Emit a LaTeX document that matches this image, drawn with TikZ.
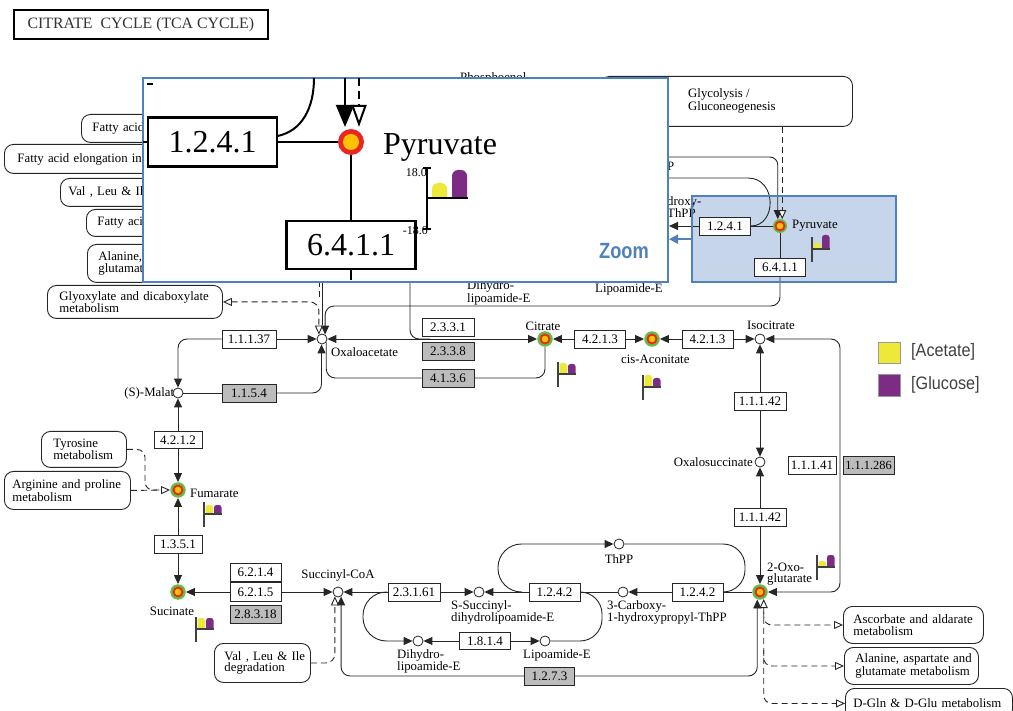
\documentclass[tikz,border=0pt]{standalone}
\usepackage{fontspec}
\setmainfont{Liberation Serif}
\newfontfamily\legfont{Liberation Sans}[FakeStretch=0.9]
\newfontfamily\zoomfont{Liberation Sans}[FakeStretch=0.83]
\usetikzlibrary{arrows.meta}
\definecolor{kblue}{RGB}{79,129,189}
\definecolor{hlfill}{RGB}{199,213,235}
\definecolor{hgreen}{RGB}{102,187,68}
\definecolor{hred}{RGB}{232,40,32}
\definecolor{horange}{RGB}{255,194,0}
\definecolor{byellow}{RGB}{238,232,56}
\definecolor{bpurple}{RGB}{124,44,132}
\definecolor{egray}{RGB}{188,188,188}
\newcommand\kflag[4]{%
  \begin{scope}
    \clip (#1,#2-20) rectangle (#1+19,#2);
    \fill[byellow, rounded corners=2.5pt] (#1+1.5,#3) rectangle (#1+9,#2+6);
    \fill[bpurple, rounded corners=2.5pt] (#1+10,#4) rectangle (#1+17.5,#2+6);
  \end{scope}
  \draw[line width=1.3pt, black!75] (#1,#2-12) -- (#1,#2+13);
  \draw[line width=1.1pt, black!75] (#1,#2) -- (#1+18,#2);
}
\begin{document}
\begin{tikzpicture}[x=1pt, y=-1pt,
  tri/.tip={Triangle[length=9pt,width=8pt]},
  otri/.tip={Triangle[open,length=9pt,width=8pt,fill=white]},
  ln/.style={line width=0.9pt, draw=black!85},
  arr/.style={ln, -tri},
  arrb/.style={ln, tri-tri},
  dsh/.style={line width=0.9pt, draw=black!85, dash pattern=on 6pt off 4pt},
  enz/.style={draw=black!85, line width=0.9pt, fill=white, minimum width=51pt, minimum height=18pt, inner sep=0pt, font=\fontsize{13}{13}\selectfont},
  enzg/.style={enz, fill=egray},
  cpd/.style={circle, draw=black!85, line width=0.8pt, fill=white, minimum size=10pt, inner sep=0pt},
  hit/.style={circle, fill=hgreen, minimum size=15.5pt, inner sep=0pt,
    path picture={\fill[hred] (path picture bounding box.center) circle (5.4pt);
                  \fill[horange] (path picture bounding box.center) circle (3.3pt);}},
  lbl/.style={font=\fontsize{12.8}{11.5}\selectfont, inner sep=0pt, align=left},
  pbox/.style={draw=black!85, line width=0.9pt, rounded corners=9pt, fill=white, align=left,
    font=\fontsize{12.8}{11.5}\selectfont, anchor=north west, inner ysep=0pt},
  zln/.style={line width=2pt, draw=black},
  zbig/.style={draw=black, line width=2.6pt, fill=white, minimum width=129pt, minimum height=49pt, inner sep=0pt, font=\fontsize{32}{32}\selectfont}
]
\useasboundingbox (0,0) rectangle (1013,711);
\fill[white] (0,0) rectangle (1013,711);

% highlight fill
\node[fill=hlfill, minimum width=204pt, minimum height=86pt, inner sep=0pt, anchor=north west] (hbox) at (692,196) {};

% title
\node[draw, line width=1.8pt, minimum width=254pt, minimum height=29pt, inner sep=0pt, anchor=north west,
  font=\fontsize{15.8}{16}\selectfont, text=black!80] (title) at (13,9) {CITRATE\ \ CYCLE (TCA CYCLE)};

% pathway boxes
\node[pbox, text width=150pt, inner xsep=11pt, minimum height=28pt] (fa1) at (81,114) {Fatty acid};
\node[pbox, text width=160pt, inner xsep=13pt, minimum height=29pt] (fa2) at (4,144) {\mbox{Fatty acid elongation in}};
\node[pbox, text width=150pt, inner xsep=8pt, minimum height=28pt] (vli) at (60,178) {Val , Leu \& Il};
\node[pbox, text width=150pt, inner xsep=11pt, minimum height=27pt] (fa3) at (86,209) {Fatty aci};
\node[pbox, text width=150pt, inner xsep=11pt, minimum height=38pt] (ala) at (87,244) {Alanine,\\glutamat};
\node[pbox, text width=151pt, inner xsep=12pt, minimum height=33pt] (glx) at (47,285) {\mbox{Glyoxylate and dicaboxylate}\\metabolism};
\node[pbox, text width=61pt, inner xsep=12pt, minimum height=36pt] (tyr) at (41,431) {Tyrosine\\\mbox{metabolism}};
\node[pbox, text width=110pt, inner xsep=8pt, minimum height=38pt] (arg) at (4,471) {\mbox{Arginine and proline}\\metabolism};
\node[pbox, text width=76pt, inner xsep=10pt, minimum height=39pt] (vli2) at (214,643) {\mbox{Val , Leu \& Ile}\\degradation};
\node[pbox, text width=120pt, inner xsep=10pt, minimum height=37pt] (asc) at (843,606) {\mbox{Ascorbate and aldarate}\\metabolism};
\node[pbox, text width=112pt, inner xsep=11pt, minimum height=37pt] (ala2) at (844,647) {\mbox{Alanine, aspartate and}\\\mbox{glutamate metabolism}};
\node[pbox, text width=151pt, inner xsep=8pt, minimum height=30pt] (dgln) at (845,688) {\mbox{D-Gln \& D-Glu metabolism}};
\node[pbox, minimum width=252pt, minimum height=50pt, inner sep=0pt] (glyc) at (600,76) {};
\node[lbl, anchor=west] (glyct) at (688,101) {Glycolysis /\\Gluconeogenesis};

% fragments near the zoom box
\node[lbl, anchor=base west] (pep) at (460,82) {Phosphoenol};
\node[lbl, anchor=west] (frP) at (667,166) {P};
\node[lbl, anchor=west] (frH) at (667,202) {droxy-};
\node[lbl, anchor=west] (frT) at (667,213) {ThPP};

% labels
\node[lbl, anchor=west] (l_oaa) at (331,352) {Oxaloacetate};
\node[lbl] (l_cit) at (543,326) {Citrate};
\node[lbl, anchor=west] (l_cis) at (621,359) {cis-Aconitate};
\node[lbl] (l_isc) at (771,325) {Isocitrate};
\node[lbl, anchor=east] (l_oxs) at (753,462) {Oxalosuccinate};
\node[lbl, anchor=west] (l_ogl) at (767,574) {2-Oxo-\\glutarate};
\node[lbl] (l_sca) at (338,575) {Succinyl-CoA};
\node[lbl] (l_suc) at (172,611) {Sucinate};
\node[lbl, anchor=west] (l_fum) at (190,493) {Fumarate};
\node[lbl, anchor=east] (l_mal) at (180,393) {(S)-Malate};
\node[lbl] (l_thpp) at (619,559) {ThPP};
\node[lbl, anchor=north west] (l_ths) at (451,600) {S-Succinyl-\\dihydrolipoamide-E};
\node[lbl, anchor=north west] (l_carb) at (607,600) {3-Carboxy-\\1-hydroxypropyl-ThPP};
\node[lbl, anchor=north west] (l_dhl) at (397,649) {Dihydro-\\lipoamide-E};
\node[lbl, anchor=west] (l_lip) at (523,655) {Lipoamide-E};
\node[lbl, anchor=west] (l_pyrs) at (792,226) {Pyruvate};
\node[lbl, anchor=west] (l_dhl2) at (467,293) {Dihydro-\\lipoamide-E};
\node[lbl, anchor=west] (l_lip2) at (595,289) {Lipoamide-E};

% compounds
\node[cpd] (oaa) at (322,339) {};
\node[cpd] (mal) at (178,393) {};
\node[hit] (fum) at (178,490) {};
\node[hit] (suc) at (178,592) {};
\node[cpd] (sca) at (338,592) {};
\node[cpd] (ths) at (479,592) {};
\node[cpd] (carb) at (623,592) {};
\node[cpd] (thpp) at (619,544) {};
\node[cpd] (dhl) at (418,641) {};
\node[cpd] (lip) at (545,641) {};
\node[hit] (ogl) at (760,592) {};
\node[cpd] (oxs) at (760,462) {};
\node[cpd] (isc) at (760,339) {};
\node[hit] (cis) at (652,339) {};
\node[hit] (cit) at (545,339) {};
\node[hit, minimum size=14pt] (pyrs) at (780,226) {};

% enzymes
\node[enz, minimum width=54pt] (e11137) at (249,339) {1.1.1.37};
\node[enzg, minimum width=54pt] (e1154) at (249,393) {1.1.5.4};
\node[enz, minimum width=48pt, minimum height=17pt] (e4212) at (178,440) {4.2.1.2};
\node[enz, minimum width=48pt] (e1351) at (178,544) {1.3.5.1};
\node[enz] (e6214) at (255.5,572) {6.2.1.4};
\node[enz, minimum height=19pt] (e6215) at (255.5,592) {6.2.1.5};
\node[enzg] (e28318) at (255.5,614) {2.8.3.18};
\node[enz, minimum width=52pt] (e2331) at (448,327) {2.3.3.1};
\node[enzg, minimum width=52pt] (e2338) at (448,351) {2.3.3.8};
\node[enzg, minimum width=52pt] (e4136) at (448,378) {4.1.3.6};
\node[enz] (e4213a) at (600,339) {4.2.1.3};
\node[enz] (e4213b) at (707.5,339) {4.2.1.3};
\node[enz, minimum width=52pt] (e11142a) at (760,401) {1.1.1.42};
\node[enz, minimum width=52pt] (e11142b) at (760,517) {1.1.1.42};
\node[enz, minimum width=48pt] (e11141) at (812,465) {1.1.1.41};
\node[enzg, minimum width=51pt, font=\fontsize{12.4}{13}\selectfont] (e111286) at (868.5,465) {1.1.1.286};
\node[enz, minimum width=52pt] (e23161) at (414,592) {2.3.1.61};
\node[enz] (e1242a) at (554.5,592) {1.2.4.2};
\node[enz] (e1242b) at (697.5,592) {1.2.4.2};
\node[enz, minimum height=17pt] (e1814) at (485,641) {1.8.1.4};
\node[enzg, minimum width=50pt] (e1273) at (549.5,676) {1.2.7.3};
\node[enz] (e1241s) at (725,226) {1.2.4.1};
\node[enz] (e6411s) at (780,267) {6.4.1.1};

% anchor helpers
\coordinate (oaaA) at (oaa.55);
\coordinate (oaaB) at (oaa.125);
\coordinate (c6411) at (oaaA |- 0,306);
\coordinate (oglb) at (ogl.-62);
\coordinate (ob1) at (oglb |- 0,612);
\coordinate (ob2) at (oglb |- 0,650);

% connectors: left column and OAA
\draw[arr, rounded corners=9pt] (e11137.west) -| (mal.north);
\draw[arr] (e11137) -- (oaa);
\draw[ln] (mal) -- (e1154);
\draw[arr, rounded corners=9pt] (e1154.east) -| (oaa.-95);
\draw[ln, rounded corners=9pt] (oaa.-38) |- (e4136.west);
\draw[ln, rounded corners=9pt] (e4136.east) -| (cit.south);
\draw[arrb] (oaa) -- (cit);
\coordinate (acoa) at (410,281);
\coordinate (acj) at (430,339);
\draw[ln, rounded corners=9pt] (acoa) |- (acj);
\draw[arr] (e4212) -- (fum);
\draw[arr] (e4212) -- (mal);
\draw[arr] (e1351) -- (suc);
\draw[arr] (e1351) -- (fum);
% top row
\draw[arr] (e4213a) -- (cit);
\draw[arr] (e4213a) -- (cis);
\draw[arr] (e4213b) -- (cis);
\draw[arr] (e4213b) -- (isc);
% right column
\draw[arr] (e11142a) -- (isc);
\draw[arr] (e11142a) -- (oxs);
\draw[arr] (e11142b) -- (oxs);
\draw[arr] (e11142b) -- (ogl);
\coordinate (ir2) at (840,592);
\draw[arrb, rounded corners=9pt] (isc.east) -| (ir2) -- (ogl.east);
% bottom row
\draw[ln] (ogl) -- (e1242b);
\draw[arr] (e1242b) -- (carb);
\draw[ln] (carb) -- (e1242a);
\draw[arr] (e1242a) -- (ths);
\draw[arr] (e23161) -- (ths);
\draw[arr] (e23161) -- (sca);
\draw[arr] (e6215) -- (sca);
\draw[arr] (e6215) -- (suc);
% loops
\coordinate (j1) at (522,592); \coordinate (j1a) at (498,592); \coordinate (j1b) at (498,544);
\draw[arr, rounded corners=23.5pt] (j1) -- (j1a) -- (j1b) -- (thpp);
\coordinate (j2) at (723,592); \coordinate (j2a) at (745,544); \coordinate (j2b) at (745,592);
\draw[ln, rounded corners=22pt] (thpp) -- (j2a) -- (j2b) -- (j2);
\coordinate (j3) at (387,592); \coordinate (j3a) at (363,592); \coordinate (j3b) at (363,641);
\draw[arr, rounded corners=23.5pt] (j3) -- (j3a) -- (j3b) -- (dhl);
\draw[arr] (e1814) -- (dhl);
\draw[arr] (e1814) -- (lip);
\coordinate (j4) at (580,592); \coordinate (j4a) at (602,641); \coordinate (j4b) at (602,592);
\draw[ln, rounded corners=22pt] (lip) -- (j4a) -- (j4b) -- (j4);
% 1.2.7.3
\draw[arr, rounded corners=9pt] (e1273.east) -| (ogl.-110);
\draw[arr, rounded corners=9pt] (e1273.west) -| (sca.-55);
\draw[dsh, -otri, rounded corners=9pt] (vli2.east) -| (sca.-125);
% pyruvate region
\draw[ln] (pyrs) -- (e1241s);
\coordinate (hyd) at (669,226);
\draw[arr] (e1241s) -- (hyd);
\draw[ln] (pyrs) -- (e6411s);
\draw[arr, rounded corners=9pt] (e6411s.south) |- (c6411) -- (oaaA);
\coordinate (tl1) at (640,157);
\draw[arr, rounded corners=8pt] (tl1) -| (pyrs.108);
\coordinate (gy1) at (pyrs.72 |- glyc.south);
\draw[dsh, -otri] (gy1) -- (pyrs.72);
\coordinate (al1) at (640,178); \coordinate (al2) at (748,178);
\draw[ln] (al1) -- (al2) .. controls (777,178) and (777,226) .. (e1241s.east);
% OAA top
\draw[dsh, otri-otri, rounded corners=9pt] (glx.east) -| (oaaB);
\coordinate (zd1) at (319,281); \coordinate (zd2) at (319,301);
\draw[dsh] (zd1) -- (zd2);
\coordinate (zs1) at (322.5,281); \coordinate (zs2) at (322.5,325);
\draw[ln] (zs1) -- (zs2);
% side pathways
\draw[dsh, -otri] (arg.east) -- (fum.west);
\coordinate (tj1) at (145,490); \coordinate (tj) at (163,490);
\draw[dsh, rounded corners=8pt] (tyr.east) -| (tj1) -- (tj);
\draw[dsh, otri-otri, rounded corners=8pt] (oglb) |- (dgln.west);
\draw[dsh, -otri, rounded corners=8pt] (ob1) |- (asc.west);
\draw[dsh, -otri, rounded corners=8pt] (ob2) |- (ala2.west);

% expression flags
\kflag{558}{374}{363}{364}
\kflag{643}{387}{375}{378}
\kflag{204}{514}{505}{505}
\kflag{196}{629}{618}{618}
\kflag{817}{567}{561}{555}
\kflag{812}{249}{243}{235}

% zoom box
\node[draw=kblue, line width=2pt, fill=white, minimum width=525pt, minimum height=204pt, inner sep=0pt, anchor=north west] (zbox) at (142,77) {};
\node[zbig] (big1241) at (212.5,142) {1.2.4.1};
\node[zbig, minimum height=48pt] (big6411) at (351,245) {6.4.1.1};
\node[circle, fill=hred, minimum size=26pt, inner sep=0pt,
  path picture={\fill[horange] (path picture bounding box.center) circle (8pt);}] (bigpyr) at (351,142) {};
\node[font=\fontsize{32}{32}\selectfont, anchor=base west, inner sep=0pt] (bigpyrl) at (383,155) {Pyruvate};
\coordinate (zl) at (143,142);
\draw[zln] (big1241.west) -- (zl);
\draw[zln] (big1241.east) -- (bigpyr);
\draw[zln] (bigpyr) -- (big6411);
\coordinate (zb) at (351,280);
\draw[zln] (big6411.south) -- (zb);
\coordinate (za1) at (277.5,136); \coordinate (za2) at (314,78);
\draw[zln] (za1) .. controls (302,131) and (314,108) .. (za2);
\coordinate (zt1) at (147,84); \coordinate (zt2) at (153,84);
\draw[zln] (zt1) -- (zt2);
\coordinate (zo1) at (359,78); \coordinate (zo2) at (359,127);
\draw[zln, dash pattern=on 8pt off 5pt, -{Triangle[open, length=22pt, width=15pt, fill=white]}] (zo1) -- (zo2);
\coordinate (zk1) at (345,78); \coordinate (zk2) at (345,127);
\draw[zln, -{Triangle[length=22pt, width=18pt]}] (zk1) -- (zk2);
% big flag
\begin{scope}
  \clip (428,150) rectangle (470,198);
  \fill[byellow, rounded corners=6pt] (432,183) rectangle (447,210);
  \fill[bpurple, rounded corners=6pt] (452,170) rectangle (467,210);
\end{scope}
\draw[line width=2pt] (427,168) -- (427,229);
\draw[line width=1.6pt] (423,168) -- (431,168);
\draw[line width=1.6pt] (423,229) -- (431,229);
\draw[line width=2.2pt] (427,198) -- (468,198);
\node[font=\fontsize{12}{12}\selectfont, anchor=east, inner sep=0pt] (ax1) at (427,173) {18.0};
\node[font=\fontsize{12}{12}\selectfont, anchor=east, inner sep=0pt] (ax2) at (428,231) {-18.0};
\node[font=\zoomfont\bfseries\fontsize{22}{22}\selectfont, text=kblue, inner sep=0pt] (zoomt) at (624,251) {Zoom};

% highlight border and pointer
\draw[kblue, line width=2pt] (hbox.north west) rectangle (hbox.south east);
\draw[kblue, line width=2pt, -{Triangle[length=9pt,width=9pt]}] (hbox.west) -- (zbox.east |- hbox.west);

% legend
\node[draw=black!40, fill=byellow, minimum width=22pt, minimum height=21pt, inner sep=0pt, anchor=north west] (legA) at (878,342) {};
\node[draw=black!40, fill=bpurple, minimum width=22pt, minimum height=22pt, inner sep=0pt, anchor=north west] (legG) at (878,374) {};
\node[anchor=west, inner sep=0pt, font=\legfont\fontsize{18}{18}\selectfont, text=black!75] (legAt) at (911,352) {[Acetate]};
\node[anchor=west, inner sep=0pt, font=\legfont\fontsize{18}{18}\selectfont, text=black!75] (legGt) at (911,385) {[Glucose]};
\end{tikzpicture}
\end{document}
